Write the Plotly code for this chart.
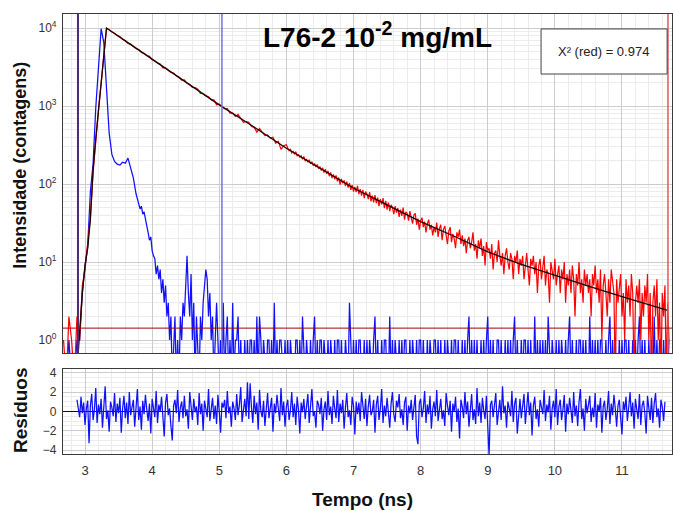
import plotly.graph_objects as go

# ---------------- data ----------------
# measured decay (counts). Early part: channels of 0.04 ns from 2.68 ns
decay_early_start, decay_early_step = 2.68, 0.04
decay_early_counts = [
    1, 0, 2, 1, 0, 2, 1, 5, 8, 17, 38, 140, 395, 880, 1950, 4350, 9950,
    9500, 8870, 8570, 8030, 7760, 7165, 6850, 6350, 6210, 5850, 5470, 5305, 4855, 4730, 4435, 4335, 3925,
    3790, 3550, 3450, 3090, 3080, 2885, 2695, 2655, 2440, 2350, 2150, 2170, 1955, 1885, 1735, 1720,
    1640, 1450, 1440, 1350, 1315, 1195, 1200, 1035, 1055,
    987, 923, 925, 812, 813, 737, 783, 681,
    618, 633, 617, 547, 533, 463, 516, 463, 418, 427, 388, 397, 335, 352, 278, 310, 319,
]
# late (noisy) part: channels of 0.02 ns from 6.02 ns
decay_late_start, decay_late_step = 6.02, 0.02
decay_late_counts = [
    290, 268, 279, 250, 262, 244, 259, 231, 238, 221, 230, 208, 226, 197, 209,
    190, 205, 181, 193, 172, 183, 165, 178, 157, 168, 149, 162, 140, 155, 135,
    147, 126, 141, 119, 133, 115, 129, 108, 121, 98, 116, 102, 111, 94, 107,
    90, 103, 84, 97, 80, 92, 79, 95, 74, 86, 71, 84, 66, 80, 75,
    64, 79, 60, 71, 58, 72, 57, 67, 52, 64, 55, 66, 49, 61, 47,
    58, 45, 54, 50, 41, 52, 43, 49, 38, 47, 39, 50, 35, 44, 42,
    34, 45, 37, 31, 40, 42, 30, 36, 26, 34, 37, 28, 33, 24, 31,
    35, 26, 30, 22, 28, 24, 32, 21, 27, 30, 19, 26, 29, 22, 17,
    25, 28, 18, 23, 20, 15, 24, 21, 26, 17, 22, 16, 20, 13, 19,
    21, 15, 18, 24, 14, 17, 11, 19, 15, 20, 12, 16, 9, 18, 14,
    15, 11, 17, 8, 13, 14, 10, 19, 12, 9, 13, 7, 12, 15, 10,
    8, 13, 11, 6, 12, 10, 14, 7, 11, 9, 12, 6, 10, 13, 8,
    5, 11, 9, 12, 7, 10, 4, 9, 11, 6, 9, 12, 5, 8, 7,
    3, 10, 8, 6, 11, 5, 7, 9, 4, 8, 6, 10, 3, 7, 5,
    8, 4, 9, 6, 2, 7, 5, 10, 4, 6, 3, 8, 5, 7, 4,
    6, 2, 7, 5, 9, 4, 6, 3, 8, 1, 5, 7, 4, 2, 6,
    3, 8, 5, 4, 0, 6, 3, 5, 7, 2, 4, 1, 6, 3, 5,
    2, 7, 4, 0, 3, 5, 3, 6, 1, 4, 2, 5, 3, 7, 1,
    4, 0, 3, 5, 2, 6, 1, 3, 0, 4, 2, 5, 0, 3, 1,
]

# instrument response (counts). Early part: 0.04 ns channels from 2.68 ns
irf_early_start, irf_early_step = 2.68, 0.04
irf_early_counts = [
    0, 0, 1, 0, 0, 1, 1, 4, 9, 16, 80, 180, 950, 3500, 9800, 6500, 1500, 450, 240, 195,
    180, 175, 190, 185, 215, 165, 120, 75,
]
# late part: 0.02 ns channels from 3.80 ns
irf_late_start, irf_late_step = 3.80, 0.02
irf_late_counts = [
    55, 48, 52, 41, 44, 33, 29, 24, 19, 21, 14, 12, 11, 7, 9, 6, 8, 4, 6, 3,
    5, 2, 3, 1, 2, 0, 1, 2, 0, 1, 0, 2, 1, 3, 2, 5, 12, 4, 2, 7,
    1, 3, 0, 2, 1, 0, 2, 1, 3, 5, 8, 6, 2, 4, 1, 2, 0, 1, 3, 1,
    0,
    1, 0, 3, 0, 1, 2, 0, 1, 0, 3,
    0, 1, 1, 2, 0, 1, 0, 0, 1, 0,
    1, 0, 1, 1, 0, 1, 0, 2, 0, 2,
    1, 0, 1, 0, 0, 1, 1, 0, 1, 0,
    3, 0, 1, 0, 1, 1, 0, 0, 1, 0,
    1, 0, 1, 0, 0, 0, 1, 1, 0, 1,
    0, 2, 1, 0, 1, 0, 0, 1, 0, 1,
    2, 0, 1, 0, 1, 1, 0, 1, 0, 0,
    1, 0, 1, 0, 0, 1, 0, 1, 1, 0,
    1, 0, 0, 1, 0, 0, 3, 1, 0, 1,
    0, 1, 0, 1, 1, 0, 0, 1, 0, 1,
    0, 1, 0, 0, 1, 2, 0, 1, 0, 0,
    1, 0, 1, 1, 0, 0, 2, 0, 1, 0,
    1, 0, 0, 1, 0, 1, 0, 1, 1, 0,
    0, 1, 0, 1, 0, 0, 1, 0, 1, 1,
    0, 1, 0, 0, 1, 0, 1, 0, 0, 1,
    1, 0, 1, 0, 1, 0, 0, 1, 0, 1,
    0, 0, 1, 0, 1, 1, 0, 1, 0, 0,
    1, 0, 1, 0, 1, 2, 0, 1, 0, 1,
    0, 1, 0, 0, 1, 0, 1, 0, 1, 2,
    0, 1, 0, 1, 0, 0, 1, 1, 0, 1,
    0, 0, 1, 0, 1, 0, 1, 0, 1, 2,
    0, 1, 0, 0, 1, 0, 1, 1, 0, 1,
    0, 1, 0, 0, 2, 0, 1, 0, 1, 0,
    1, 0, 1, 0, 2, 1, 0, 1, 0, 0,
    1, 0, 1, 0, 1, 0, 0, 1, 0, 1,
    2, 0, 1, 0, 0, 1, 0, 1, 1, 0,
    1, 0, 1, 0, 0, 2, 0, 1, 0, 1,
    0, 1, 0, 1, 1, 0, 0, 1, 0, 1,
    2, 0, 1, 0, 1, 0, 0, 1, 0, 1,
    0, 1, 1, 0, 1, 0, 0, 1, 0, 1,
    0, 1, 2, 0, 1, 0, 1, 0, 0, 1,
    0, 1, 0, 2, 0, 1, 0, 1, 1, 0,
    1, 0, 1, 0, 1,
]

# fitted curve (ns, counts)
fit_t = [2.88, 2.92, 2.96, 3.00, 3.04, 3.08, 3.12, 3.16, 3.20, 3.24, 3.28, 3.32, 3.6, 4.0, 4.5,
         5.0, 5.5, 6.0, 6.5, 7.0, 7.5, 8.0, 8.5, 9.0, 9.5, 10.0, 10.5, 11.0, 11.5, 11.68]
fit_y = [0.4, 1.5, 4, 9, 15, 35, 150, 380, 900, 1900, 4300, 10000, 6840, 3980, 2050,
         1035, 550, 288, 159, 89, 54, 33, 21.4, 13.5, 9.3, 6.7, 4.9, 3.6, 2.65, 2.4]

# weighted residuals: 0.02 ns channels from 2.88 ns
res_start, res_step = 2.88, 0.02
residuals = [
    1.2, 0.4, -0.6, 1.5, -0.2, 0.9, -1.4, 0.3, 1.1, -3.3,
    0.6, 1.8, -0.9, 0.2, 2.4, -1.2, 0.7, -0.3, 1.3, -1.7,
    0.5, 2.6, -0.8, 0.1, -2.1, 1.0, 0.4, -0.5, 1.9, -1.1,
    0.8, -0.2, 1.4, -2.2, 0.3, 1.6, -0.7, 0.9, -1.3, 2.0,
    -0.4, 0.6, 1.2, -1.6, 0.1, 2.3, -0.9, 0.5, -1.9, 1.1,
    -0.3, 1.7, 0.2, -1.0, 0.8, -2.3, 1.3, 0.4, -0.6, 2.1,
    -1.2, 0.7, 0.0, 1.5, -0.8, -2.6, 0.9, 1.8, -0.4, 0.3,
    -1.5, -3.0, 0.6, 1.2, -0.2, 2.2, -1.1, 0.4, 1.0, -0.7,
    1.6, -0.5, 0.2, -1.8, 2.0, 0.7, -0.9, 1.3, -0.1, 0.5,
    -1.4, 1.9, -0.3, 0.8, -2.0, 1.1, 0.3, -0.6, 2.3, -1.0,
    0.2, 1.4, -0.8, 0.6, -1.3, 1.7, 0.0, -2.2, 0.9, 0.4,
    1.2, -0.7, 2.1, -0.2, 0.5, -1.6, 1.0, 0.3, -0.9, 1.8,
    -0.4, 0.7, 2.5, -1.1, 0.1, 1.3, -0.5, 3.0, -0.8, 2.9,
    0.4, -1.2, 1.6, -0.3, 0.9, -1.9, 2.2, 0.0, -0.6, 1.1,
    -1.5, 0.6, 1.9, -0.7, 0.2, 1.4, -2.1, 0.8, -0.2, 1.7,
    0.3, -1.0, 2.4, -0.4, 1.0, -1.6, 0.5, 1.2, -0.9, 0.1,
    2.0, -0.6, 0.8, -1.4, 1.5, 0.2, -2.3, 0.9, -0.1, 1.3,
    -0.8, 0.4, 1.8, -1.2, 0.6, 2.3, -0.5, 0.0, -1.7, 1.1,
    0.7, -0.3, 1.4, -2.0, 0.2, 1.0, -0.9, 2.1, -0.4, 0.5,
    -1.3, 1.6, 0.3, -0.7, 2.2, -1.1, 0.8, -0.2, 1.2, -1.8,
    0.4, 1.9, -0.6, 0.1, -1.4, 1.5, 0.6, -2.4, 1.0, -0.3,
    0.9, -1.0, 2.0, 0.2, -0.8, 1.3, -1.5, 0.5, 1.7, -0.4,
    0.0, 1.2, -2.2, 0.7, 1.6, -0.9, 0.3, 2.3, -1.2, 0.6,
    -0.5, 1.4, 0.1, -1.7, 0.8, 2.0, -0.3, -1.1, 1.1, 0.4,
    1.8, -0.7, 0.2, -1.4, 0.9, 1.5, -2.0, 0.6, -0.2, 1.2,
    -0.9, 0.5, 1.7, -2.6, -3.4, 0.8, 1.3, -0.6, 0.3, 2.1,
    -1.2, 0.7, -0.3, 1.6, -1.8, 0.2, 1.0, -0.5, 2.2, -1.0,
    0.4, 1.3, -0.8, 0.1, -1.5, 1.9, 0.6, -0.4, 1.1, -2.1,
    0.8, 0.0, 1.5, -1.1, 0.3, -2.8, 1.2, 0.5, -0.7, 2.0,
    -0.3, 1.0, -1.6, 0.6, 1.8, -0.9, 0.2, -1.3, 2.4, -0.5,
    0.9, -1.2, 1.4, 0.1, -0.8, 1.6, -2.0, -4.6, 0.7, 1.1,
    -0.6, 0.4, 1.9, -1.4, 0.2, 1.2, -0.9, 2.6, -0.2, 0.6,
    -1.7, 1.0, 0.3, -0.5, 2.1, -1.1, 0.8, 1.4, -2.3, 0.1,
    1.3, -0.7, 0.5, 1.8, -1.3, 0.0, 2.0, -0.4, 0.9, -2.5,
    0.6, 1.5, -0.8, 0.2, -1.6, 1.2, 0.4, -0.3, 2.2, -1.0,
    0.7, -0.1, 1.6, -1.9, 0.3, 1.1, -0.6, 2.3, -1.4, 0.5,
    1.2, -0.9, 0.2, 1.7, -2.1, 0.8, -0.3, 1.4, 0.1, -1.2,
    2.0, -0.5, 0.6, -1.5, 1.0, 2.3, -0.8, 0.3, -2.0, 1.3,
    -0.2, 0.9, 1.6, -1.1, 0.4, -0.6, 1.9, -1.7, 0.7, 0.0,
    1.4, -2.2, 0.5, 1.1, -0.9, 0.2, 2.1, -1.3, 0.8, -0.4,
    1.7, 0.3, -1.6, 0.6, 1.2, -0.7, -2.4, 1.0, 0.1, 1.5,
    -1.0, 0.4, 2.0, -0.5, 0.9, -1.8, 1.3, 0.2, -0.8, 1.8,
    -1.4, 0.6, 1.1, -0.2, -2.3, 1.6, 0.4, -0.9, 1.4, -1.2,
    0.8, 1.9, -0.6, 0.3, -1.7, 1.2, 0.5, -1.0, 1.0,
]

# cursors, baseline and labels
cursor_left = 2.895
cursor_mid = 5.04
cursor_right = 11.685
baseline_level = 1.42
chi2_red = 0.974
title_text = "L76-2 10<sup>-2</sup> mg/mL"

x_ticks = [3, 4, 5, 6, 7, 8, 9, 10, 11]
y_ticks = [1, 10, 100, 1000, 10000]
y_ticktext = ["10<sup>0</sup>", "10<sup>1</sup>", "10<sup>2</sup>", "10<sup>3</sup>", "10<sup>4</sup>"]
res_ticks = [-4, -2, 0, 2, 4]


# ---------------- build ----------------
def channels(start, step, n):
    return [round(start + step * i, 4) for i in range(n)]


t_decay = (channels(decay_early_start, decay_early_step, len(decay_early_counts))
           + channels(decay_late_start, decay_late_step, len(decay_late_counts)))
decay_counts = decay_early_counts + decay_late_counts
t_irf = (channels(irf_early_start, irf_early_step, len(irf_early_counts))
         + channels(irf_late_start, irf_late_step, len(irf_late_counts)))
irf_counts = irf_early_counts + irf_late_counts
t_res = channels(res_start, res_step, len(residuals))

ZERO_FLOOR = 0.3  # zero-count channels are drawn below the bottom of the log axis


def show(counts):
    return [c if c > 0 else ZERO_FLOOR for c in counts]


FONT = "Liberation Sans, Arial, sans-serif"
GRID = "#cccccc"
MINOR = "#ececec"
FRAME = "#3a3a3a"

fig = go.Figure()
fig.add_trace(go.Scatter(x=t_irf, y=show(irf_counts), mode="lines",
                         line=dict(color="#1010ff", width=1.25), xaxis="x", yaxis="y",
                         showlegend=False, hoverinfo="skip"))
fig.add_trace(go.Scatter(x=t_decay, y=show(decay_counts), mode="lines",
                         line=dict(color="#ff0000", width=1.2), xaxis="x", yaxis="y",
                         showlegend=False, hoverinfo="skip"))
fig.add_trace(go.Scatter(x=fit_t, y=fit_y, mode="lines",
                         line=dict(color="#1a0505", width=1.3), xaxis="x", yaxis="y",
                         showlegend=False, hoverinfo="skip"))
fig.add_trace(go.Scatter(x=t_res, y=residuals, mode="lines",
                         line=dict(color="#1010ff", width=1.25), xaxis="x2", yaxis="y2",
                         showlegend=False, hoverinfo="skip"))

x_range = [2.672, 11.745]
minor_x = dict(dtick=0.2, tick0=0, showgrid=True, gridcolor=MINOR, gridwidth=1, ticks="")
log_minor = [k * 10 ** n for n in range(-1, 5) for k in range(2, 10)]

fig.update_layout(
    width=673, height=511,
    margin=dict(l=63, r=1, t=14, b=57),
    paper_bgcolor="white", plot_bgcolor="white",
    font=dict(family=FONT, color="#333333", size=12),
    xaxis=dict(domain=[0, 1], anchor="y", range=x_range, dtick=1, tick0=0,
               showticklabels=False, showgrid=True, gridcolor=GRID, gridwidth=1,
               minor=minor_x, zeroline=False, showline=True, mirror=True,
               linecolor=FRAME, linewidth=1.2, ticks=""),
    yaxis=dict(domain=[0.2295, 1], anchor="x", type="log", range=[-0.167, 4.18],
               tickmode="array", tickvals=y_ticks, ticktext=y_ticktext,
               tickfont=dict(size=12, color="#333333"),
               showgrid=True, gridcolor=GRID, gridwidth=1,
               minor=dict(tickmode="array", tickvals=log_minor, showgrid=True,
                          gridcolor=MINOR, ticks=""),
               zeroline=False, showline=True, mirror=True, linecolor=FRAME, linewidth=1.2,
               ticks="outside", ticklen=3, tickcolor="rgba(0,0,0,0)"),
    xaxis2=dict(domain=[0, 1], anchor="y2", matches="x", range=x_range,
                tickmode="array", tickvals=x_ticks, tickfont=dict(size=13, color="#333333"),
                showgrid=True, gridcolor=GRID, gridwidth=1, minor=minor_x,
                zeroline=False, showline=True, mirror=True, linecolor=FRAME, linewidth=1.2,
                ticks="outside", ticklen=4, tickcolor="rgba(0,0,0,0)"),
    yaxis2=dict(domain=[0, 0.193], anchor="x2", range=[-4.41, 4.37],
                tickmode="array", tickvals=res_ticks, tickfont=dict(size=12, color="#333333"),
                showgrid=True, gridcolor=GRID, gridwidth=1,
                minor=dict(dtick=0.5, tick0=0, showgrid=True, gridcolor=MINOR, ticks=""),
                zeroline=True, zerolinecolor="#111111", zerolinewidth=1.3,
                showline=True, mirror=True, linecolor=FRAME, linewidth=1.2,
                ticks="outside", ticklen=3, tickcolor="rgba(0,0,0,0)"),
)

shapes = [
    dict(type="line", xref="x", yref="y domain", x0=cursor_left, x1=cursor_left, y0=0, y1=1,
         line=dict(color="#4a2a70", width=2)),
    dict(type="line", xref="x", yref="y domain", x0=cursor_mid, x1=cursor_mid, y0=0, y1=1,
         line=dict(color="#7474d4", width=1.5)),
    dict(type="line", xref="x", yref="y domain", x0=cursor_right, x1=cursor_right, y0=0, y1=1,
         line=dict(color="#e05a5a", width=1.5)),
    dict(type="line", xref="x domain", yref="y", x0=0, x1=1, y0=baseline_level, y1=baseline_level,
         line=dict(color="#a00000", width=1)),
    dict(type="rect", xref="paper", yref="paper", x0=0.785, x1=0.992, y0=0.8636, y1=0.966,
         line=dict(color="#444444", width=1), fillcolor="white", layer="above"),
]
fig.update_layout(shapes=shapes)

annotations = [
    dict(text="<b>" + title_text + "</b>", xref="paper", yref="paper", x=0.516, y=0.953,
         xanchor="center", yanchor="middle", showarrow=False,
         font=dict(family=FONT, size=28, color="#000000")),
    dict(text="X² (red) = %.3f" % chi2_red, xref="paper", yref="paper", x=0.888, y=0.915,
         xanchor="center", yanchor="middle", showarrow=False,
         font=dict(family=FONT, size=13, color="#222222")),
    dict(text="<b>Intensidade (contagens)</b>", xref="paper", yref="paper", x=-0.0706, y=0.655,
         xanchor="center", yanchor="middle", textangle=-90, showarrow=False,
         font=dict(family=FONT, size=18, color="#111111")),
    dict(text="<b>Resíduos</b>", xref="paper", yref="paper", x=-0.0706, y=0.1,
         xanchor="center", yanchor="middle", textangle=-90, showarrow=False,
         font=dict(family=FONT, size=19, color="#111111")),
    dict(text="<b>Tempo (ns)</b>", xref="paper", yref="paper", x=0.491, y=-0.1045,
         xanchor="center", yanchor="middle", showarrow=False,
         font=dict(family=FONT, size=19, color="#111111")),
]
fig.update_layout(annotations=annotations)

fig.write_html("out.html")
